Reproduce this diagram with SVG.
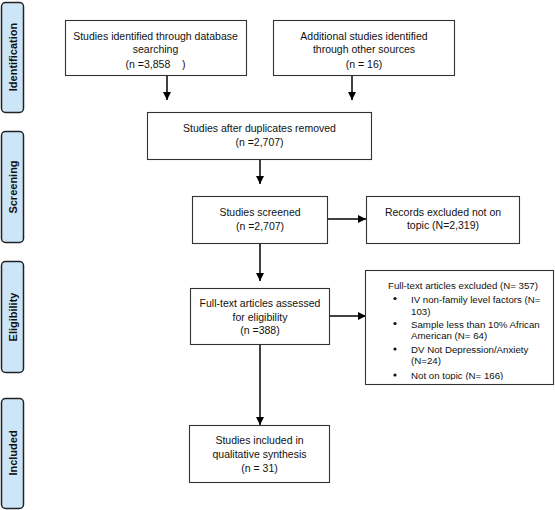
<svg xmlns="http://www.w3.org/2000/svg" width="555" height="510" viewBox="0 0 555 510">
<style>
.box{fill:#fff;stroke:#333;stroke-width:1.1}
.phase{fill:#cce5f7;stroke:#222;stroke-width:1.5}
.t{font-family:"Liberation Sans",Arial,sans-serif;font-size:10.5px;fill:#111;text-anchor:middle}
.tl{font-family:"Liberation Sans",Arial,sans-serif;font-size:9.7px;fill:#111}
.pt{font-family:"Liberation Sans",Arial,sans-serif;font-size:11px;font-weight:bold;fill:#111;text-anchor:middle}
.c{stroke:#000;stroke-width:1.5;fill:none;marker-end:url(#ah)}
</style>
<defs>
<marker id="ah" markerUnits="userSpaceOnUse" markerWidth="8" markerHeight="8" refX="8" refY="4" orient="auto">
<path d="M0,0 L8,4 L0,8 z" fill="#000"/>
</marker>
<clipPath id="clipEx"><rect x="365" y="270" width="190" height="110"/></clipPath>
</defs>
<rect width="555" height="510" fill="#fff"/>

<g id="phase-identification">
<rect class="phase" x="1.5" y="2.5" width="22" height="110" rx="4"/>
<text class="pt" transform="translate(16.5,57) rotate(-90)">Identification</text>
</g>
<g id="phase-screening">
<rect class="phase" x="1.5" y="131.5" width="22" height="111" rx="4"/>
<text class="pt" transform="translate(16.5,187) rotate(-90)">Screening</text>
</g>
<g id="phase-eligibility">
<rect class="phase" x="1.5" y="261.5" width="22" height="111" rx="4"/>
<text class="pt" transform="translate(16.5,317) rotate(-90)">Eligibility</text>
</g>
<g id="phase-included">
<rect class="phase" x="1.5" y="398.5" width="22" height="110" rx="4"/>
<text class="pt" transform="translate(16.5,453) rotate(-90)">Included</text>
</g>

<g id="connectors">
<line class="c" x1="167" y1="75" x2="167" y2="100"/>
<line class="c" x1="352" y1="76" x2="352" y2="100"/>
<line class="c" x1="260" y1="159" x2="260" y2="184"/>
<line class="c" x1="260" y1="243" x2="260" y2="281"/>
<line class="c" x1="327" y1="219" x2="366" y2="219"/>
<line class="c" x1="329" y1="316" x2="366" y2="316"/>
<line class="c" x1="260" y1="344" x2="260" y2="425"/>
</g>

<g id="db-search">
<rect class="box" x="65.5" y="20.5" width="181" height="55"/>
<text class="t" x="155.5" y="39.8">Studies identified through database</text>
<text class="t" x="155.5" y="53">searching</text>
<text class="t" x="155.5" y="67.5">(n =3,858&#160;&#160;&#160;&#160;)</text>
</g>

<g id="other-sources">
<rect class="box" x="273.5" y="20.5" width="181" height="55"/>
<text class="t" x="364" y="39.8">Additional studies identified</text>
<text class="t" x="364" y="53">through other sources</text>
<text class="t" x="364" y="67.5">(n = 16)</text>
</g>

<g id="duplicates-removed">
<rect class="box" x="147.5" y="112.5" width="224" height="47"/>
<text class="t" x="259.5" y="131.5">Studies after duplicates removed</text>
<text class="t" x="259.5" y="146">(n =2,707)</text>
</g>

<g id="screened">
<rect class="box" x="192.5" y="196.5" width="135" height="47"/>
<text class="t" x="260" y="215.5">Studies screened</text>
<text class="t" x="260" y="229.5">(n =2,707)</text>
</g>

<g id="records-excluded">
<rect class="box" x="366.5" y="196.5" width="153" height="47"/>
<text class="t" x="443" y="215.5">Records excluded not on</text>
<text class="t" x="443" y="229">topic (N=2,319)</text>
</g>

<g id="full-text">
<rect class="box" x="190.5" y="288.5" width="139" height="56"/>
<text class="t" x="260" y="306.5">Full-text articles assessed</text>
<text class="t" x="260" y="320.5">for eligibility</text>
<text class="t" x="260" y="334">(n =388)</text>
</g>

<g id="fulltext-excluded">
<rect class="box" x="365.5" y="270.5" width="188" height="114"/>
<g clip-path="url(#clipEx)">
<text class="tl" x="388" y="288.8">Full-text articles excluded (N= 357)</text>
<circle cx="395" cy="298.5" r="1.6" fill="#111"/>
<text class="tl" x="411" y="302.5">IV non-family level factors (N=</text>
<text class="tl" x="411" y="314.5">103)</text>
<circle cx="395" cy="323.5" r="1.6" fill="#111"/>
<text class="tl" x="411" y="327.5">Sample less than 10% African</text>
<text class="tl" x="411" y="338.5">American (N= 64)</text>
<circle cx="395" cy="349" r="1.6" fill="#111"/>
<text class="tl" x="411" y="352.8">DV Not Depression/Anxiety</text>
<text class="tl" x="411" y="364">(N=24)</text>
<circle cx="395" cy="375" r="1.6" fill="#111"/>
<text class="tl" x="411" y="378.8">Not on topic (N= 166)</text>
</g>
</g>

<g id="included">
<rect class="box" x="189.5" y="425.5" width="140" height="57"/>
<text class="t" x="259.5" y="443.8">Studies included in</text>
<text class="t" x="259.5" y="457.8">qualitative synthesis</text>
<text class="t" x="259.5" y="471.5">(n = 31)</text>
</g>
</svg>
